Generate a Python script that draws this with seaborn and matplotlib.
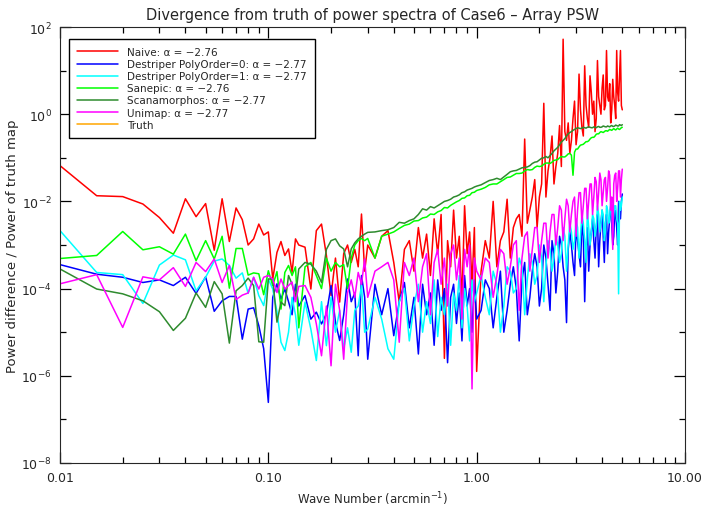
import numpy as np
import pandas as pd
import seaborn as sns
import matplotlib
matplotlib.use("Agg")
import matplotlib.pyplot as plt
from matplotlib.ticker import FixedLocator, FixedFormatter, LogFormatterMathtext, NullFormatter

# wave number grid (arcmin^-1), coarser than the original at high k
wave_number = [0.010, 0.015, 0.020, 0.025, 0.030, 0.035, 0.040, 0.045, 0.050, 0.055,
               0.060, 0.065, 0.070, 0.075, 0.080, 0.085, 0.090, 0.095, 0.100, 0.105,
               0.110, 0.115, 0.120, 0.125, 0.130, 0.135, 0.140,
               0.15, 0.16, 0.17, 0.18, 0.19, 0.20, 0.21, 0.22, 0.23, 0.24, 0.25, 0.26,
               0.27, 0.28, 0.29, 0.30,
               0.325, 0.35, 0.375, 0.40, 0.425, 0.45, 0.475, 0.50, 0.525, 0.55, 0.575,
               0.60, 0.625, 0.65, 0.675, 0.70, 0.725, 0.75, 0.775, 0.80, 0.825, 0.85,
               0.875, 0.90, 0.925, 0.95, 0.975, 1.00,
               1.05, 1.10, 1.15, 1.20, 1.25, 1.30, 1.35, 1.40, 1.45, 1.50,
               1.55, 1.60, 1.65, 1.70, 1.75, 1.80, 1.85, 1.90, 1.95, 2.00,
               2.05, 2.10, 2.15, 2.20, 2.25, 2.30, 2.35, 2.40, 2.45, 2.50,
               2.55, 2.60, 2.65, 2.70, 2.75, 2.80, 2.85, 2.90, 2.95, 3.00,
               3.05, 3.10, 3.15, 3.20, 3.25, 3.30, 3.35, 3.40, 3.45, 3.50,
               3.55, 3.60, 3.65, 3.70, 3.75, 3.80, 3.85, 3.90, 3.95, 4.00,
               4.05, 4.10, 4.15, 4.20, 4.25, 4.30, 4.35, 4.40, 4.45, 4.50,
               4.55, 4.60, 4.65, 4.70, 4.75, 4.80, 4.85, 4.90, 4.95, 5.00]

# log10 of (power difference / power of truth map), estimated per method
naive_log = [-1.18, -1.87, -1.89, -2.06, -2.37, -2.73, -1.94, -2.35, -2.05, -3.12,
             -1.94, -2.92, -2.15, -2.42, -3.00, -2.86, -2.52, -2.77, -2.70, -3.78,
             -3.17, -2.92, -3.24, -3.09, -3.63, -2.86, -3.00,
             -3.05, -4.01, -2.67, -2.52, -3.24, -4.16, -3.30, -4.31, -3.20, -3.00,
             -3.40, -3.10, -3.50, -2.29, -3.60, -3.00,
             -3.30, -2.80, -2.67, -3.40, -4.31, -3.10, -2.90, -3.60, -2.60, -3.30,
             -2.75, -3.70, -2.40, -3.20, -2.30, -5.60, -2.90, -3.50, -2.20, -3.30,
             -2.80, -4.30, -2.10, -3.20, -2.70, -3.90, -2.60, -5.90,
             -3.60, -2.90, -3.30, -2.00, -3.50, -2.90, -2.70, -1.95, -3.30, -2.60,
             -2.40, -2.30, -2.80, -0.57, -2.50, -2.20, -1.90, -1.50, -2.60, -1.90,
             -1.60, 0.25, -1.90, -1.30, -1.00, -0.50, -1.60, -1.20, -0.90, -0.26,
             -1.20, 1.72, -0.40, -0.60, -0.20, -0.90, -0.60, -0.10, 0.30, -0.70,
             -0.40, 0.92, 0.10, -0.30, -0.50, 1.11, 0.20, -0.10, -0.30, 0.88,
             0.50, 0.00, 0.30, -0.40, -0.10, 1.23, 0.40, 0.20, 0.00, 0.60,
             0.90, 0.10, 0.20, 1.46, 0.40, 0.30, 0.70, -0.20, 0.10, 0.80,
             0.40, 0.20, -0.10, 1.46, 0.50, 0.30, 0.90, 1.46, 0.20, 0.10]

destriper0_log = [-3.45, -3.67, -3.74, -3.86, -3.80, -3.93, -3.74, -4.11, -3.73, -4.52,
                  -4.28, -4.18, -4.18, -5.16, -4.47, -4.44, -4.85, -5.38, -6.61, -4.20,
                  -3.89, -4.24, -4.01, -4.30, -4.60, -3.90, -4.40,
                  -4.16, -4.70, -4.54, -4.81, -4.58, -3.93, -4.77, -5.19, -4.60, -3.78,
                  -4.30, -4.10, -5.54, -3.70, -4.20, -5.62,
                  -3.90, -4.60, -4.00, -5.08, -4.30, -3.86, -4.90, -4.20, -5.50, -3.90,
                  -4.60, -4.10, -5.30, -3.80, -4.50, -4.00, -5.70, -4.20, -3.90, -4.80,
                  -4.10, -5.20, -3.70, -4.40, -4.00, -5.00, -3.80, -4.70,
                  -4.50, -3.80, -4.00, -4.90, -4.20, -3.60, -5.00, -4.50, -3.90, -3.50,
                  -4.00, -5.20, -3.80, -3.40, -4.60, -4.20, -3.60, -3.20, -3.50, -4.40,
                  -4.00, -3.00, -3.30, -3.90, -4.50, -2.90, -3.20, -4.10, -3.60, -2.80,
                  -3.00, -3.50, -3.80, -4.78, -3.10, -2.70, -3.00, -3.40, -3.70, -2.60,
                  -2.90, -3.20, -3.50, -2.50, -2.80, -4.30, -3.10, -2.60, -3.60, -3.00,
                  -2.70, -2.40, -2.90, -3.30, -2.60, -2.30, -3.50, -2.90, -2.50, -2.20,
                  -2.80, -3.40, -2.50, -2.30, -3.20, -2.70, -2.40, -2.10, -2.50, -3.00,
                  -2.80, -2.20, -2.30, -2.60, -3.00, -2.00, -2.20, -2.40, -2.00, -1.83]

destriper1_log = [-2.67, -3.63, -3.68, -4.34, -3.46, -3.23, -3.34, -4.05, -3.74, -3.37,
                  -3.32, -3.47, -3.76, -3.64, -4.11, -3.74, -4.16, -4.39, -3.78, -4.01,
                  -4.53, -5.23, -5.42, -5.00, -4.20, -4.60, -5.30,
                  -4.31, -4.93, -5.65, -4.30, -5.31, -4.20, -5.00, -4.50, -5.38, -4.90,
                  -5.46, -4.50, -4.40, -3.93, -5.00, -4.93,
                  -4.20, -4.70, -5.38, -5.62, -4.30, -4.00, -5.20, -4.40, -3.90, -5.00,
                  -4.30, -4.80, -3.80, -5.10, -4.20, -4.60, -3.90, -5.30, -4.10, -4.50,
                  -3.70, -4.90, -4.00, -4.40, -5.20, -3.80, -4.30, -4.10,
                  -3.70, -4.20, -4.60, -3.60, -3.90, -5.00, -4.40, -3.50, -3.60, -4.10,
                  -4.00, -3.30, -3.50, -4.60, -3.80, -3.20, -3.40, -3.90, -3.70, -3.00,
                  -3.30, -4.30, -3.50, -2.90, -3.10, -3.60, -3.30, -2.80, -3.00, -3.40,
                  -3.20, -2.60, -2.80, -3.60, -3.00, -2.50, -2.70, -3.10, -2.90, -2.40,
                  -2.60, -3.30, -2.80, -2.30, -2.50, -2.90, -3.40, -2.20, -2.60, -3.00,
                  -2.70, -2.30, -2.40, -2.80, -2.60, -2.10, -2.30, -2.70, -2.50, -2.20,
                  -2.30, -2.90, -2.70, -2.10, -2.20, -2.50, -2.40, -2.00, -2.20, -2.60,
                  -2.30, -2.10, -2.10, -2.40, -2.50, -4.12, -2.00, -2.20, -2.10, -1.90]

sanepic_log = [-3.31, -3.24, -2.69, -3.11, -3.04, -3.21, -2.75, -3.36, -2.90, -3.32,
               -2.80, -3.99, -3.08, -3.08, -3.69, -3.64, -3.66, -4.14, -3.59, -3.93,
               -3.61, -4.47, -3.63, -3.47, -3.70, -3.50, -4.90,
               -3.50, -3.40, -3.70, -4.00, -3.30, -3.60, -3.40, -3.50, -3.45, -4.00,
               -3.30, -3.00, -2.90, -2.85, -2.90, -2.85,
               -3.30, -2.80, -2.75, -2.70, -2.62, -2.55, -2.52, -2.45, -2.44, -2.38,
               -2.36, -2.29, -2.30, -2.24, -2.21, -2.14, -2.15, -2.09, -2.05, -2.01,
               -1.98, -1.93, -1.92, -1.87, -1.86, -1.80, -1.79, -1.75,
               -1.72, -1.68, -1.62, -1.60, -1.60, -1.55, -1.50, -1.45, -1.44, -1.40,
               -1.36, -1.36, -1.35, -1.30, -1.27, -1.28, -1.27, -1.22, -1.19, -1.20,
               -1.19, -1.15, -1.12, -1.12, -1.13, -1.10, -1.06, -1.05, -1.04, -1.00,
               -0.97, -0.98, -0.98, -0.95, -0.91, -0.90, -0.94, -1.40, -0.87, -0.80,
               -0.80, -0.75, -0.71, -0.70, -0.69, -0.66, -0.63, -0.63, -0.61, -0.57,
               -0.54, -0.53, -0.53, -0.50, -0.46, -0.45, -0.45, -0.42, -0.40, -0.41,
               -0.42, -0.40, -0.38, -0.38, -0.39, -0.37, -0.35, -0.36, -0.37, -0.35,
               -0.33, -0.35, -0.36, -0.34, -0.32, -0.34, -0.35, -0.33, -0.31, -0.30]

scanamorphos_log = [-3.55, -4.01, -4.12, -4.28, -4.53, -4.96, -4.68, -4.10, -4.43, -3.84,
                    -4.12, -5.25, -4.05, -3.93, -3.76, -3.93, -5.22, -5.23, -3.78, -3.78,
                    -4.77, -4.31, -4.39, -3.70, -3.90, -4.20, -3.55,
                    -3.40, -3.44, -3.60, -3.86, -3.10, -2.90, -2.86, -3.02, -3.09, -3.50,
                    -3.09, -2.95, -2.86, -2.80, -2.75, -2.71,
                    -2.70, -2.67, -2.65, -2.60, -2.48, -2.50, -2.44, -2.40, -2.30, -2.17,
                    -2.20, -2.12, -2.15, -2.10, -2.05, -2.00, -1.98, -1.95, -1.90, -1.88,
                    -1.85, -1.80, -1.78, -1.74, -1.72, -1.70, -1.67, -1.65,
                    -1.62, -1.57, -1.52, -1.50, -1.47, -1.50, -1.44, -1.38, -1.32, -1.30,
                    -1.29, -1.26, -1.23, -1.22, -1.21, -1.18, -1.13, -1.10, -1.09, -1.05,
                    -1.01, -1.00, -0.97, -1.00, -0.95, -0.90, -0.84, -0.80, -0.76, -0.70,
                    -0.64, -0.60, -0.56, -0.50, -0.45, -0.42, -0.40, -0.37, -0.35, -0.33,
                    -0.31, -0.32, -0.33, -0.32, -0.30, -0.31, -0.32, -0.30, -0.29, -0.30,
                    -0.31, -0.31, -0.29, -0.30, -0.31, -0.29, -0.28, -0.30, -0.30, -0.29,
                    -0.27, -0.28, -0.29, -0.29, -0.27, -0.28, -0.29, -0.27, -0.26, -0.28,
                    -0.28, -0.27, -0.25, -0.26, -0.27, -0.27, -0.24, -0.25, -0.26, -0.24]

unimap_log = [-3.89, -3.68, -4.89, -3.73, -3.80, -3.52, -3.95, -3.40, -3.61, -3.32,
              -3.86, -3.47, -4.25, -4.15, -4.10, -3.74, -4.01, -3.74, -3.70, -3.78,
              -4.09, -3.78, -4.01, -3.93, -3.85, -4.30, -3.95,
              -3.93, -4.20, -4.81, -5.54, -4.40, -5.77, -3.90, -4.50, -5.62, -4.10,
              -3.80, -4.20, -3.63, -3.90, -3.32, -4.20,
              -3.60, -3.50, -3.40, -3.80, -5.23, -3.40, -3.70, -3.30, -4.30, -3.50,
              -3.20, -4.60, -3.40, -3.10, -3.90, -3.30, -4.40, -3.20, -3.00, -3.80,
              -3.30, -4.70, -3.10, -3.50, -3.00, -6.30, -3.30, -3.60,
              -3.80, -3.30, -3.40, -4.20, -3.70, -3.10, -3.20, -3.90, -3.50, -3.00,
              -2.90, -4.50, -3.30, -2.80, -2.70, -3.60, -3.10, -2.60, -2.60, -3.40,
              -2.90, -2.50, -2.50, -3.30, -2.70, -2.30, -2.30, -3.00, -2.60, -2.10,
              -2.20, -2.90, -2.40, -1.95, -2.10, -2.70, -2.30, -2.00, -1.90, -2.80,
              -2.20, -1.80, -1.80, -2.50, -2.10, -1.70, -1.70, -2.40, -2.00, -1.60,
              -1.60, -2.30, -1.90, -1.45, -1.55, -2.20, -1.80, -1.35, -1.50, -2.10,
              -1.80, -1.50, -1.45, -2.00, -1.70, -1.30, -1.40, -2.20, -1.90, -3.10,
              -1.60, -1.40, -1.35, -2.00, -1.70, -1.30, -1.30, -1.90, -1.50, -1.26]

# the truth map compared with itself: zero difference, invisible on a log axis
truth_ratio = np.zeros(len(wave_number))

labels = ["Naive: \u03b1 = \u22122.76",
          "Destriper PolyOrder=0: \u03b1 = \u22122.77",
          "Destriper PolyOrder=1: \u03b1 = \u22122.77",
          "Sanepic: \u03b1 = \u22122.76",
          "Scanamorphos: \u03b1 = \u22122.77",
          "Unimap: \u03b1 = \u22122.77",
          "Truth"]
colors = ["#ff0000", "#0000ff", "#00ffff", "#00ff00", "#2e8b2e", "#ff00ff", "#ffa500"]

series = [10.0 ** np.array(naive_log), 10.0 ** np.array(destriper0_log),
          10.0 ** np.array(destriper1_log), 10.0 ** np.array(sanepic_log),
          10.0 ** np.array(scanamorphos_log), 10.0 ** np.array(unimap_log),
          truth_ratio]

sns.set_style("ticks")
plt.rcParams['font.family'] = ['DejaVu Sans']

fig = plt.figure(figsize=(7.02, 5.10), dpi=100)
ax = fig.add_axes([60 / 702, 1 - 464 / 510, 625 / 702, 436 / 510])

for lab, col, vals in zip(labels, colors, series):
    df = pd.DataFrame({'k': wave_number, 'ratio': vals})
    sns.lineplot(data=df, x='k', y='ratio', color=col, label=lab, ax=ax,
                 estimator=None, sort=False, linewidth=1.1)

ax.set_xscale('log')
ax.set_yscale('log', nonpositive='mask')
ax.set_xlim(0.01, 10)
ax.set_ylim(1e-8, 1e2)

ax.set_title("Divergence from truth of power spectra of Case6 \u2013 Array PSW",
             fontsize=10.5, pad=6)
ax.set_xlabel("Wave Number (arcmin$^{-1}$)", fontsize=8.5)
ax.set_ylabel("Power difference / Power of truth map", fontsize=9.5)
ax.yaxis.set_label_coords(-0.066, 0.5)

leg = ax.legend(loc='upper left', bbox_to_anchor=(0.014, 0.973), borderaxespad=0,
                fontsize=7.5, frameon=True, fancybox=False, handlelength=3.9,
                labelspacing=0.2, borderpad=0.8, handletextpad=0.9)
leg.get_frame().set_edgecolor('black')
leg.get_frame().set_linewidth(1.0)
leg.get_frame().set_alpha(1)

# tick setup done last so nothing afterwards can reset it
x_minor = [m * d for d in (0.01, 0.1, 1.0) for m in range(2, 10)]
ax.xaxis.remove_overlapping_locs = False
ax.xaxis.set_major_locator(FixedLocator([0.01, 0.1, 1, 10]))
ax.xaxis.set_major_formatter(FixedFormatter(["0.01", "0.10", "1.00", "10.00"]))
ax.xaxis.set_minor_locator(FixedLocator(x_minor))
ax.xaxis.set_minor_formatter(NullFormatter())
ax.yaxis.set_major_locator(FixedLocator([1e-8, 1e-6, 1e-4, 1e-2, 1e0, 1e2]))
ax.yaxis.set_major_formatter(LogFormatterMathtext())
ax.yaxis.set_minor_locator(FixedLocator([1e-7, 1e-5, 1e-3, 1e-1, 1e1]))
ax.yaxis.set_minor_formatter(NullFormatter())

ax.tick_params(which='both', direction='in', bottom=True, top=True, left=True,
               right=True, labelsize=9, width=0.9, color='black')
ax.tick_params(which='major', length=8, pad=6)
ax.tick_params(axis='x', which='minor', length=4, bottom=True, top=True)
ax.tick_params(axis='y', which='minor', length=4, left=True, right=True)

fig.savefig("out.png", dpi=100)
